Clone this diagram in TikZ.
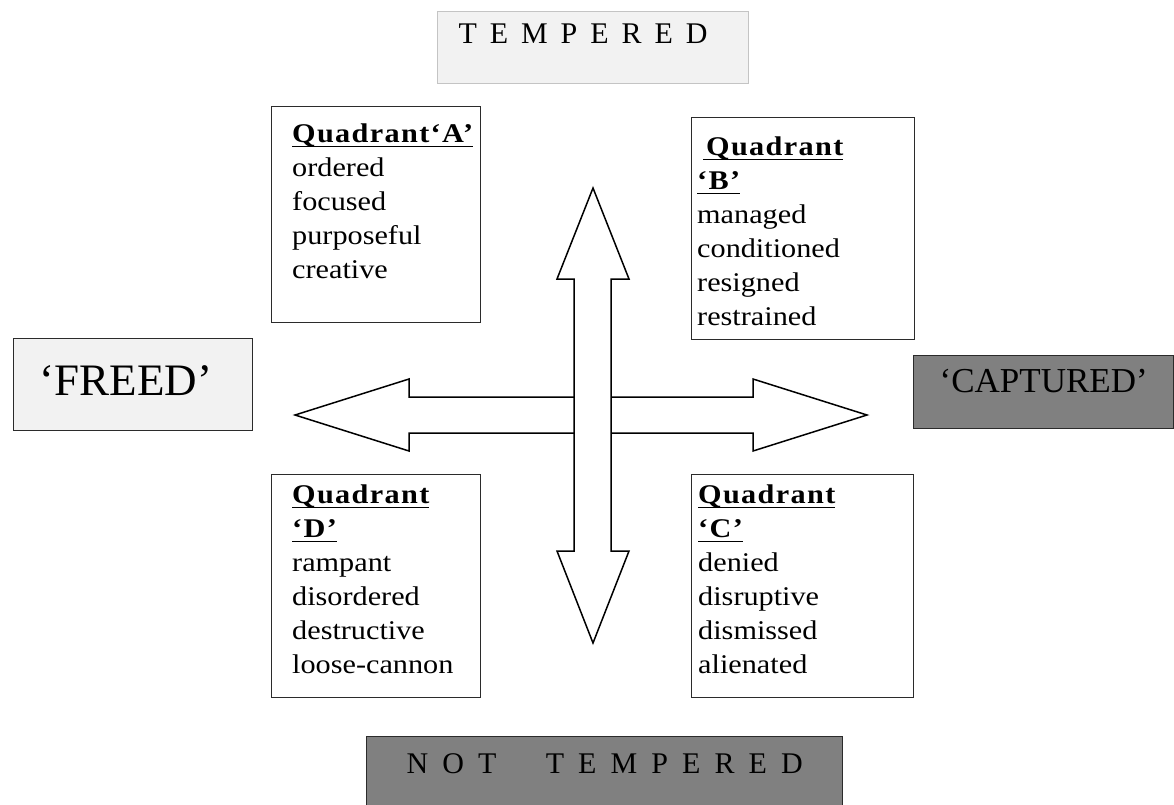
\documentclass[tikz,border=0pt]{standalone}
\usepackage{fontspec}
\setmainfont{Liberation Serif}
\newfontfamily\wideserif{Liberation Serif}[FakeStretch=1.12]
\usepackage{tikz}
\definecolor{paleback}{HTML}{F2F2F2}
\definecolor{midgray}{HTML}{808080}
\definecolor{rimgray}{HTML}{C4C4C4}
\definecolor{inkgray}{HTML}{2B2B2B}
\newsavebox{\headbox}
% heading words: bold, a little spaced, with a rule under them
\newcommand{\qhead}[1]{{\bfseries\addfontfeature{LetterSpace=5}#1}}
\newcommand{\ulhead}[1]{\leavevmode\sbox{\headbox}{#1}\rlap{\usebox{\headbox}}\rule[-5pt]{\wd\headbox}{1.3pt}}
\tikzset{
  every picture/.style={
    line join=miter,
  },
  quadbox/.style={draw=inkgray, line width=1.4pt, inner sep=0pt, anchor=north west},
  quadlist/.style={inner sep=0pt, anchor=base west, text width=215pt, align=left,
    font=\wideserif\fontsize{27}{34}\selectfont},
  polebox/.style={draw=inkgray, line width=1.4pt, inner sep=0pt, anchor=north west},
  fatarrow/.style={draw=black, line width=1.5pt},
}

\begin{document}
\begin{tikzpicture}[x=1pt, y=-1pt]
\useasboundingbox (0,0) rectangle (1174,804);
% Poles
\node[polebox, draw=rimgray, line width=1pt, fill=paleback, minimum width=311pt,
  text height=32pt, text depth=40pt, font=\fontsize{30}{34}\selectfont] (tempered) at (437,11)
  {\hbox to 249pt{T\hfill E\hfill M\hfill P\hfill E\hfill R\hfill E\hfill D}\kern20pt};
\node[polebox, fill=midgray, minimum width=476pt, text height=37pt, text depth=47pt,
  font=\fontsize{30}{34}\selectfont] (nottempered) at (366,736)
  {\hbox to 396pt{N\hfill O\hfill T\hfill\hfill\hfill\hskip0pt plus .5fill T\hfill E\hfill M\hfill P\hfill E\hfill R\hfill E\hfill D}};
\node[polebox, fill=paleback, minimum width=239pt, text height=57pt, text depth=35pt,
  font=\fontsize{45}{50}\selectfont] (freed) at (13,338) {‘FREED’\kern14pt};
\node[polebox, fill=midgray, minimum width=260pt, text height=37pt, text depth=36pt,
  font=\fontsize{35}{40}\selectfont] (captured) at (913,355) {‘CAPTURED’};

% Quadrant boxes
\node[quadbox, minimum width=209pt, minimum height=216pt] (boxA) at (271,106) {};
\node[quadbox, minimum width=223pt, minimum height=222pt] (boxB) at (691,117) {};
\node[quadbox, minimum width=209pt, minimum height=223pt] (boxD) at (271,474) {};
\node[quadbox, minimum width=222pt, minimum height=223pt] (boxC) at (691,474) {};

% Quadrant words
\node[quadlist] (listA) at (292,142) {\ulhead{\qhead{Quadrant‘A’}}\\ ordered\\ focused\\ purposeful\\ creative};
\node[quadlist] (listB) at (697,155) {\hspace*{6pt}\ulhead{\qhead{\hspace*{3pt}Quadrant}}\\ \ulhead{\qhead{‘B’}}\\ managed\\ conditioned\\ resigned\\ restrained};
\node[quadlist] (listD) at (292,503) {\ulhead{\qhead{Quadrant}}\\ \ulhead{\qhead{‘D’}}\\ rampant\\ disordered\\ destructive\\ loose-cannon};
\node[quadlist] (listC) at (698,503) {\ulhead{\qhead{Quadrant}}\\ \ulhead{\qhead{‘C’}}\\ denied\\ disruptive\\ dismissed\\ alienated};

% Block arrows
\draw[fatarrow] (574,397) -- (409,397) -- (409,379) -- (295,415) -- (409,451) -- (409,433) -- (574,433);
\draw[fatarrow] (611,397) -- (753,397) -- (753,379) -- (867,415) -- (753,451) -- (753,433) -- (611,433);
\draw[fatarrow] (574,279) -- (557,279) -- (593,188) -- (629,279) -- (611,279) -- (611,551)
  -- (629,551) -- (593,643) -- (557,551) -- (574,551) -- cycle;
\end{tikzpicture}
\end{document}
